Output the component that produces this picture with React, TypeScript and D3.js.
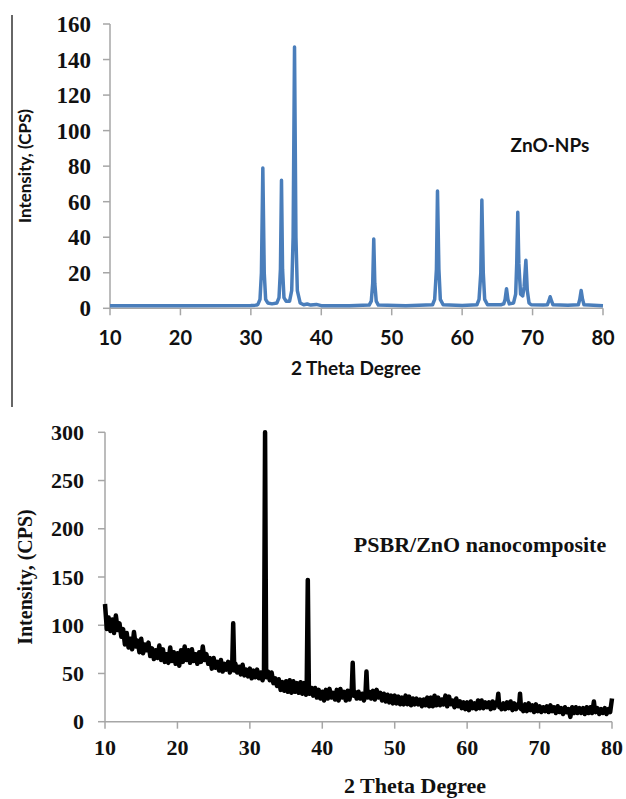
import React from "react";
import * as d3 from "d3";

// ---------- Top chart (ZnO-NPs) data ----------
const topXTicks = [10, 20, 30, 40, 50, 60, 70, 80];
const topYTicks = [0, 20, 40, 60, 80, 100, 120, 140, 160];
const zno: [number, number][] = [
  [10, 1.5], [20, 1.5], [30, 1.6], [30.8, 1.8], [31.0, 2.2], [31.3, 5], [31.5, 20], [31.7, 79], [31.9, 20], [32.1, 5], [32.4, 3],
  [33.0, 2.5], [33.7, 3], [34.0, 6], [34.2, 22], [34.35, 72], [34.5, 22], [34.7, 6], [35.0, 4],
  [35.5, 4], [35.8, 10], [36.0, 40], [36.2, 147], [36.4, 40], [36.6, 10], [37.0, 3], [37.5, 2], [38.0, 2.4], [38.5, 1.8], [39.3, 2.2], [40, 1.5],
  [44, 1.5], [46.8, 1.8], [47.1, 4], [47.3, 14], [47.45, 39], [47.6, 14], [47.8, 4], [48.1, 1.8],
  [52, 1.5], [55.8, 2], [56.1, 5], [56.35, 22], [56.5, 66], [56.7, 22], [56.9, 5], [57.3, 2],
  [60, 1.6], [62.1, 2], [62.4, 5], [62.65, 20], [62.8, 61], [63.0, 20], [63.2, 5], [63.6, 2],
  [65.5, 2], [65.9, 2.5], [66.1, 5], [66.3, 11], [66.5, 5], [66.7, 2.5],
  [67.3, 3], [67.6, 8], [67.75, 25], [67.9, 54], [68.05, 25], [68.3, 8], [68.6, 7], [68.8, 12], [69.05, 27], [69.25, 10], [69.5, 3], [69.8, 2],
  [71.5, 1.8], [72.1, 2], [72.3, 4], [72.5, 6.5], [72.7, 4], [72.9, 2],
  [75, 1.7], [76.5, 2], [76.7, 5], [76.9, 10], [77.1, 5], [77.3, 2], [80, 1.5],
];

// ---------- Bottom chart (PSBR/ZnO) data ----------
const botXTicks = [10, 20, 30, 40, 50, 60, 70, 80];
const botYTicks = [0, 50, 100, 150, 200, 250, 300];
const gridStart = 10;
const gridStep = 0.25;
// background counts read every 0.25 degree from 10 to 80
const background = [
  122, 96, 108, 94, 106, 92, 110, 95, 102, 88, 96, 80, 92, 77, 86, 75,
  93, 78, 84, 72, 86, 71, 80, 74, 82, 68, 76, 65, 74, 66, 79, 64,
  75, 62, 70, 61, 77, 63, 72, 60, 71, 58, 74, 62, 78, 64, 74, 61,
  75, 63, 70, 60, 72, 62, 78, 64, 70, 60, 66, 55, 66, 56, 62, 53,
  64, 52, 60, 54, 62, 51, 58, 50, 60, 51, 57, 49, 59, 48, 54, 47,
  55, 45, 53, 46, 54, 45, 51, 43, 49, 47, 52, 43, 51, 40, 45, 37,
  44, 33, 41, 32, 42, 31, 43, 30, 42, 31, 40, 30, 41, 29, 40, 28,
  37, 29, 35, 27, 35, 25, 33, 24, 31, 22, 33, 24, 34, 25, 30, 23,
  33, 22, 34, 25, 31, 22, 32, 23, 33, 26, 31, 24, 31, 24, 29, 22,
  32, 26, 31, 24, 32, 23, 33, 25, 30, 22, 29, 21, 28, 20, 27, 19,
  27, 19, 26, 18, 25, 18, 27, 18, 26, 17, 24, 18, 24, 18, 23, 16,
  23, 17, 25, 16, 25, 16, 27, 17, 25, 17, 23, 18, 27, 16, 26, 18,
  22, 15, 24, 16, 21, 14, 20, 13, 20, 12, 21, 14, 19, 13, 22, 14,
  22, 14, 20, 15, 20, 13, 21, 14, 20, 14, 18, 13, 19, 13, 20, 14,
  21, 12, 19, 13, 18, 12, 17, 11, 18, 11, 19, 12, 17, 10, 18, 11,
  16, 10, 15, 11, 16, 10, 17, 11, 15, 9, 16, 10, 14, 8, 15, 10,
  13, 5, 15, 9, 15, 9, 14, 9, 14, 8, 15, 9, 15, 9, 14, 10,
  14, 8, 13, 9, 14, 8, 13, 10, 24,
];
const peaks: [number, number][][] = [
  [[27.55, 55], [27.7, 102], [27.85, 53]],
  [[31.95, 50], [32.1, 300], [32.25, 46]],
  [[37.85, 36], [38.0, 147], [38.15, 33]],
  [[44.05, 30], [44.2, 61], [44.35, 27]],
  [[45.95, 27], [46.1, 52], [46.25, 25]],
  [[64.15, 19], [64.3, 29], [64.45, 15]],
  [[67.15, 15], [67.3, 29], [67.45, 13]],
  [[77.35, 13], [77.5, 21], [77.65, 11]],
];

function buildComposite(): [number, number][] {
  const bg: [number, number][] = background.map((v, i) => [gridStart + i * gridStep, v]);
  const kept = bg.filter(([x]) => !peaks.some((p) => x > p[0][0] && x < p[p.length - 1][0]));
  const all = kept.concat(...peaks);
  all.sort((a, b) => a[0] - b[0]);
  return all;
}

const serif = "'Liberation Serif', 'Times New Roman', serif";
const sans = "Lato, 'Open Sans', sans-serif";
const axisGray = "#a6a6a6";

export default function App() {
  // top chart scales
  const tx = d3.scaleLinear().domain([10, 80]).range([110, 603]);
  const ty = d3.scaleLinear().domain([0, 160]).range([308.3, 24]);
  const topLine = d3.line<[number, number]>().x((d) => tx(d[0])).y((d) => ty(d[1]));

  // bottom chart scales
  const bx = d3.scaleLinear().domain([10, 80]).range([105, 612]);
  const by = d3.scaleLinear().domain([0, 300]).range([721.7, 432.3]);
  const botLine = d3.line<[number, number]>().x((d) => bx(d[0])).y((d) => by(d[1]));
  const composite = buildComposite();

  return (
    <svg
      width={626}
      height={799}
      style={{ position: "absolute", left: 0, top: 0, background: "#fff" }}
    >
      <rect width={626} height={799} fill="#fff" />
      {/* left border line of top panel */}
      <line x1={12} x2={12} y1={15} y2={407} stroke="#333" strokeWidth={1.5} />

      {/* ---------- Top chart ---------- */}
      <g>
        <line x1={tx(10)} x2={tx(10)} y1={ty(160)} y2={ty(0)} stroke={axisGray} strokeWidth={1.5} />
        <line x1={tx(10)} x2={tx(80)} y1={ty(0)} y2={ty(0)} stroke={axisGray} strokeWidth={1.5} />
        {topYTicks.map((t) => (
          <g key={"ty" + t}>
            <line x1={tx(10) - 7} x2={tx(10)} y1={ty(t)} y2={ty(t)} stroke={axisGray} strokeWidth={1.5} />
            <text x={91} y={ty(t)} dy="0.35em" textAnchor="end" fontFamily={serif} fontWeight="bold" fontSize={23} fill="#111">
              {t}
            </text>
          </g>
        ))}
        {topXTicks.map((t) => (
          <g key={"tx" + t}>
            <line x1={tx(t)} x2={tx(t)} y1={ty(0)} y2={ty(0) + 7} stroke={axisGray} strokeWidth={1.5} />
            <text x={tx(t)} y={345} textAnchor="middle" fontFamily={sans} fontWeight="bold" fontSize={20} fill="#111">
              {t}
            </text>
          </g>
        ))}
        <path d={topLine(zno) || ""} fill="none" stroke="#4a7ebb" strokeWidth={3.5} strokeLinejoin="round" />
        <text x={356} y={375} textAnchor="middle" fontFamily={sans} fontWeight="bold" fontSize={19} fill="#111">
          2 Theta Degree
        </text>
        <text
          transform="translate(31,166) rotate(-90)"
          textAnchor="middle"
          fontFamily={sans}
          fontWeight="bold"
          fontSize={17}
          fill="#111"
        >
          Intensity, (CPS)
        </text>
        <text x={550} y={152} textAnchor="middle" fontFamily={sans} fontWeight="bold" fontSize={19} fill="#111">
          ZnO-NPs
        </text>
      </g>

      {/* ---------- Bottom chart ---------- */}
      <g>
        <line x1={bx(10)} x2={bx(10)} y1={by(300)} y2={by(0)} stroke={axisGray} strokeWidth={1.5} />
        <line x1={bx(10)} x2={bx(80)} y1={by(0)} y2={by(0)} stroke={axisGray} strokeWidth={1.5} />
        {botYTicks.map((t) => (
          <g key={"by" + t}>
            <line x1={bx(10) - 7} x2={bx(10)} y1={by(t)} y2={by(t)} stroke={axisGray} strokeWidth={1.5} />
            <text x={84} y={by(t)} dy="0.35em" textAnchor="end" fontFamily={serif} fontWeight="bold" fontSize={22} fill="#111">
              {t}
            </text>
          </g>
        ))}
        {botXTicks.map((t) => (
          <g key={"bx" + t}>
            <line x1={bx(t)} x2={bx(t)} y1={by(0)} y2={by(0) + 7} stroke={axisGray} strokeWidth={1.5} />
            <text x={bx(t)} y={755} textAnchor="middle" fontFamily={serif} fontWeight="bold" fontSize={22} fill="#111">
              {t}
            </text>
          </g>
        ))}
        <path d={botLine(composite) || ""} fill="none" stroke="#000" strokeWidth={4.5} strokeLinejoin="round" />
        <text x={415} y={793} textAnchor="middle" fontFamily={serif} fontWeight="bold" fontSize={22} fill="#111">
          2 Theta Degree
        </text>
        <text
          transform="translate(32,577) rotate(-90)"
          textAnchor="middle"
          fontFamily={serif}
          fontWeight="bold"
          fontSize={20}
          fill="#111"
        >
          Intensity, (CPS)
        </text>
        <text x={480} y={552} textAnchor="middle" fontFamily={serif} fontWeight="bold" fontSize={22} fill="#111">
          PSBR/ZnO nanocomposite
        </text>
      </g>
    </svg>
  );
}
